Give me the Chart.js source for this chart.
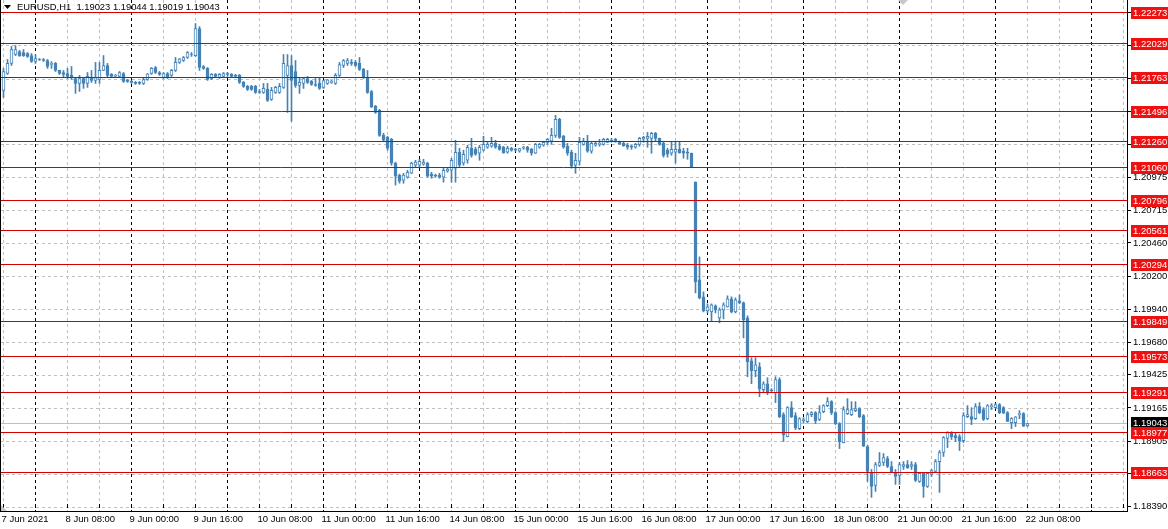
<!DOCTYPE html>
<html><head><meta charset="utf-8">
<script src="https://cdn.jsdelivr.net/npm/chart.js@4.4.0/dist/chart.umd.min.js"></script>
<style>html,body{margin:0;padding:0;background:#fff;overflow:hidden}#wrap{position:relative;width:1168px;height:529px}</style>
</head><body><div id="wrap"><canvas id="c" width="1168" height="529"></canvas></div>
<script>
const chartTitle = 'EURUSD,H1  1.19023 1.19044 1.19019 1.19043';

const openP = [
1.21657,1.21790,1.21869,1.21939,1.21963,1.21955,1.21947,1.21931,1.21884,1.21900,
1.21900,1.21892,1.21861,1.21869,1.21814,1.21798,1.21790,1.21775,1.21751,1.21712,
1.21751,1.21712,1.21759,1.21736,1.21743,1.21814,1.21853,1.21783,1.21767,1.21767,
1.21790,1.21736,1.21728,1.21720,1.21720,1.21712,1.21743,1.21790,1.21837,1.21798,
1.21759,1.21790,1.21775,1.21814,1.21877,1.21892,1.21916,1.21939,1.21931,1.22143,
1.21845,1.21830,1.21751,1.21783,1.21759,1.21767,1.21790,1.21783,1.21775,1.21775,
1.21720,1.21689,1.21689,1.21689,1.21649,1.21642,1.21665,1.21587,1.21642,1.21642,
1.21681,1.21775,1.21853,1.21806,1.21697,1.21712,1.21751,1.21728,1.21704,1.21712,
1.21681,1.21712,1.21720,1.21712,1.21775,1.21853,1.21869,1.21877,1.21877,1.21869,
1.21822,1.21759,1.21649,1.21532,1.21501,1.21305,1.21289,1.21274,1.21086,1.20992,
1.20953,1.20976,1.21007,1.21070,1.21070,1.21078,1.21086,1.21000,1.20992,1.20992,
1.20976,1.21023,1.21031,1.21047,1.21172,1.21086,1.21109,1.21203,1.21195,1.21164,
1.21188,1.21211,1.21219,1.21242,1.21219,1.21211,1.21172,1.21203,1.21195,1.21180,
1.21203,1.21211,1.21195,1.21164,1.21211,1.21227,1.21250,1.21258,1.21305,1.21430,
1.21297,1.21219,1.21172,1.21070,1.21101,1.21234,1.21258,1.21180,1.21227,1.21234,
1.21234,1.21250,1.21266,1.21274,1.21258,1.21242,1.21227,1.21219,1.21211,1.21234,
1.21274,1.21281,1.21281,1.21321,1.21281,1.21242,1.21188,1.21164,1.21172,1.21195,
1.21180,1.21172,1.21164,1.20937,1.20170,1.20037,1.19927,1.19919,1.19966,1.19872,
1.19935,1.19958,1.20021,1.19919,1.20005,1.19990,1.19872,1.19535,1.19457,1.19488,
1.19308,1.19355,1.19308,1.19285,1.19387,1.19113,1.18940,1.19167,1.19105,1.19003,
1.19066,1.19058,1.19113,1.19128,1.19074,1.19136,1.19183,1.19214,1.19128,1.19042,
1.18893,1.19120,1.19113,1.19144,1.19160,1.19105,1.18862,1.18658,1.18557,1.18713,
1.18737,1.18768,1.18705,1.18658,1.18635,1.18705,1.18721,1.18705,1.18721,1.18588,
1.18651,1.18549,1.18643,1.18666,1.18744,1.18815,1.18925,1.18972,1.18948,1.18940,
1.18909,1.19097,1.19097,1.19081,1.19175,1.19152,1.19081,1.19175,1.19167,1.19191,
1.19167,1.19128,1.19050,1.19050,1.19113,1.19120,1.19023];

const highP = [
1.21830,1.21900,1.22002,1.22010,1.21971,1.21978,1.21955,1.21947,1.21939,1.21908,
1.21908,1.21900,1.21884,1.21877,1.21816,1.21814,1.21830,1.21845,1.21759,1.21775,
1.21759,1.21798,1.21814,1.21877,1.21877,1.21931,1.21869,1.21790,1.21783,1.21806,
1.21798,1.21743,1.21736,1.21728,1.21728,1.21759,1.21790,1.21837,1.21845,1.21806,
1.21798,1.21798,1.21822,1.21916,1.21908,1.21924,1.21963,1.21955,1.22182,1.22158,
1.21853,1.21837,1.21790,1.21790,1.21790,1.21798,1.21798,1.21790,1.21783,1.21783,
1.21728,1.21697,1.21697,1.21697,1.21665,1.21712,1.21712,1.21681,1.21689,1.21712,
1.21939,1.21939,1.21931,1.21892,1.21759,1.21759,1.21767,1.21736,1.21751,1.21759,
1.21736,1.21743,1.21736,1.21790,1.21877,1.21900,1.21908,1.21900,1.21892,1.21916,
1.21830,1.21814,1.21657,1.21540,1.21509,1.21321,1.21297,1.21281,1.21094,1.21000,
1.21007,1.21031,1.21094,1.21109,1.21117,1.21117,1.21094,1.21015,1.21000,1.21007,
1.21047,1.21047,1.21125,1.21266,1.21203,1.21188,1.21227,1.21281,1.21211,1.21227,
1.21297,1.21250,1.21289,1.21266,1.21234,1.21219,1.21219,1.21211,1.21203,1.21203,
1.21219,1.21219,1.21203,1.21242,1.21242,1.21258,1.21281,1.21360,1.21462,1.21438,
1.21305,1.21242,1.21188,1.21164,1.21289,1.21281,1.21305,1.21250,1.21250,1.21274,
1.21281,1.21281,1.21281,1.21281,1.21260,1.21250,1.21242,1.21227,1.21242,1.21289,
1.21297,1.21328,1.21328,1.21328,1.21283,1.21250,1.21203,1.21250,1.21250,1.21250,
1.21203,1.21203,1.21166,1.20939,1.20350,1.20076,1.19982,1.19982,1.19974,1.19950,
1.19990,1.20045,1.20037,1.20029,1.20052,1.19997,1.19888,1.19559,1.19559,1.19520,
1.19371,1.19402,1.19316,1.19410,1.19402,1.19128,1.19175,1.19214,1.19128,1.19089,
1.19089,1.19128,1.19136,1.19136,1.19183,1.19191,1.19246,1.19222,1.19136,1.19050,
1.19175,1.19238,1.19214,1.19214,1.19167,1.19113,1.18870,1.18682,1.18737,1.18815,
1.18807,1.18784,1.18744,1.18682,1.18737,1.18744,1.18752,1.18744,1.18737,1.18658,
1.18658,1.18658,1.18682,1.18760,1.18831,1.18940,1.18979,1.18979,1.18972,1.18956,
1.19128,1.19183,1.19167,1.19199,1.19207,1.19167,1.19191,1.19199,1.19199,1.19199,
1.19175,1.19136,1.19089,1.19097,1.19144,1.19128,1.19044];

const lowP = [
1.21602,1.21783,1.21853,1.21931,1.21924,1.21924,1.21916,1.21877,1.21869,1.21892,
1.21884,1.21830,1.21830,1.21806,1.21783,1.21759,1.21751,1.21743,1.21634,1.21649,
1.21673,1.21681,1.21720,1.21712,1.21712,1.21812,1.21759,1.21759,1.21759,1.21759,
1.21720,1.21720,1.21712,1.21704,1.21704,1.21704,1.21736,1.21783,1.21790,1.21775,
1.21751,1.21751,1.21767,1.21806,1.21869,1.21884,1.21908,1.21924,1.21924,1.21814,
1.21822,1.21736,1.21743,1.21759,1.21751,1.21759,1.21767,1.21759,1.21759,1.21712,
1.21681,1.21657,1.21657,1.21634,1.21634,1.21634,1.21571,1.21579,1.21634,1.21634,
1.21673,1.21485,1.21415,1.21681,1.21634,1.21673,1.21712,1.21697,1.21689,1.21665,
1.21673,1.21704,1.21712,1.21704,1.21767,1.21837,1.21853,1.21853,1.21845,1.21814,
1.21751,1.21634,1.21524,1.21477,1.21297,1.21258,1.21188,1.21070,1.20914,1.20929,
1.20929,1.20968,1.21005,1.21054,1.21054,1.21070,1.20976,1.20968,1.20976,1.20968,
1.20937,1.21015,1.20937,1.20937,1.21054,1.21070,1.21086,1.21133,1.21148,1.21109,
1.21180,1.21203,1.21211,1.21203,1.21188,1.21164,1.21164,1.21180,1.21180,1.21172,
1.21195,1.21172,1.21148,1.21162,1.21203,1.21219,1.21234,1.21234,1.21289,1.21281,
1.21203,1.21148,1.21047,1.21007,1.21070,1.21227,1.21172,1.21164,1.21219,1.21219,
1.21227,1.21248,1.21250,1.21250,1.21234,1.21219,1.21195,1.21195,1.21203,1.21219,
1.21250,1.21211,1.21164,1.21258,1.21227,1.21133,1.21133,1.21148,1.21086,1.21164,
1.21125,1.21117,1.21054,1.20068,1.20021,1.19919,1.19911,1.19849,1.19911,1.19833,
1.19864,1.19956,1.19911,1.19911,1.19982,1.19715,1.19410,1.19355,1.19410,1.19253,
1.19285,1.19269,1.19285,1.19207,1.19089,1.18901,1.18938,1.19089,1.18995,1.18995,
1.19050,1.19050,1.19097,1.19042,1.19066,1.19128,1.19175,1.19113,1.19034,1.18846,
1.18891,1.19113,1.19105,1.19136,1.19089,1.18862,1.18588,1.18463,1.18510,1.18705,
1.18713,1.18697,1.18658,1.18565,1.18565,1.18682,1.18690,1.18682,1.18588,1.18580,
1.18463,1.18541,1.18627,1.18658,1.18502,1.18784,1.18854,1.18917,1.18901,1.18831,
1.18893,1.19089,1.19034,1.19074,1.19120,1.19066,1.19074,1.19152,1.19160,1.19120,
1.19120,1.19058,1.19003,1.19019,1.19081,1.19019,1.19019];

const closeP = [
1.21806,1.21869,1.21978,1.21978,1.21931,1.21931,1.21924,1.21884,1.21908,1.21898,
1.21892,1.21845,1.21869,1.21814,1.21790,1.21783,1.21767,1.21759,1.21712,1.21751,
1.21712,1.21767,1.21736,1.21759,1.21814,1.21853,1.21775,1.21767,1.21775,1.21798,
1.21728,1.21728,1.21720,1.21712,1.21712,1.21743,1.21788,1.21830,1.21798,1.21783,
1.21790,1.21759,1.21814,1.21877,1.21906,1.21916,1.21955,1.21937,1.22143,1.21837,
1.21830,1.21743,1.21783,1.21767,1.21783,1.21790,1.21783,1.21767,1.21767,1.21720,
1.21689,1.21665,1.21665,1.21642,1.21642,1.21673,1.21579,1.21657,1.21681,1.21689,
1.21869,1.21853,1.21736,1.21697,1.21720,1.21751,1.21720,1.21704,1.21697,1.21673,
1.21734,1.21741,1.21728,1.21775,1.21861,1.21892,1.21892,1.21869,1.21853,1.21822,
1.21759,1.21642,1.21526,1.21485,1.21305,1.21266,1.21203,1.21086,1.20984,1.20945,
1.20992,1.21015,1.21086,1.21094,1.21101,1.21094,1.20984,1.20984,1.20984,1.20976,
1.21031,1.21039,1.21109,1.21172,1.21070,1.21156,1.21211,1.21148,1.21156,1.21211,
1.21234,1.21234,1.21242,1.21211,1.21195,1.21166,1.21203,1.21188,1.21188,1.21201,
1.21211,1.21188,1.21164,1.21234,1.21234,1.21250,1.21274,1.21305,1.21430,1.21289,
1.21211,1.21164,1.21062,1.21109,1.21250,1.21258,1.21180,1.21242,1.21242,1.21242,
1.21274,1.21274,1.21258,1.21258,1.21236,1.21221,1.21211,1.21211,1.21234,1.21281,
1.21289,1.21297,1.21321,1.21281,1.21234,1.21148,1.21156,1.21195,1.21195,1.21166,
1.21164,1.21164,1.21056,1.20154,1.20029,1.19927,1.19958,1.19974,1.19935,1.19935,
1.19974,1.20021,1.19919,1.20013,1.19990,1.19856,1.19528,1.19457,1.19504,1.19316,
1.19355,1.19293,1.19300,1.19387,1.19097,1.18956,1.19167,1.19097,1.19011,1.19081,
1.19074,1.19113,1.19128,1.19066,1.19128,1.19183,1.19214,1.19128,1.19042,1.18901,
1.19152,1.19152,1.19152,1.19160,1.19097,1.18864,1.18666,1.18549,1.18721,1.18737,
1.18776,1.18705,1.18660,1.18627,1.18721,1.18721,1.18697,1.18721,1.18596,1.18651,
1.18549,1.18651,1.18674,1.18744,1.18815,1.18932,1.18972,1.18940,1.18932,1.18909,
1.19105,1.19113,1.19074,1.19175,1.19128,1.19074,1.19183,1.19183,1.19191,1.19128,
1.19128,1.19060,1.19081,1.19095,1.19120,1.19021,1.19043];

// time axis: one label every 16 hourly bars, starting at bar 0
const xTickLabels = ['7 Jun 2021','8 Jun 08:00','9 Jun 00:00','9 Jun 16:00','10 Jun 08:00',
  '11 Jun 00:00','11 Jun 16:00','14 Jun 08:00','15 Jun 00:00','15 Jun 16:00','16 Jun 08:00',
  '17 Jun 00:00','17 Jun 16:00','18 Jun 08:00','21 Jun 00:00','21 Jun 16:00','22 Jun 08:00'];
const daySeparatorBars = [8,32,56,80,104,128,152,176,200,224,248,272];

const yTickValues = [1.18390,1.18648,1.18905,1.19165,1.19425,1.19680,1.19940,1.20200,
  1.20460,1.20715,1.20975,1.21235,1.21495,1.21750,1.22010,1.22270];
const levelValues = [1.22273,1.22029,1.21763,1.21496,1.21260,1.21060,1.20796,1.20561,
  1.20294,1.19849,1.19573,1.19291,1.18977,1.18663];
const lastPrice = 1.19043;

const BLUE = '#4682b4';
const FONT = '"Liberation Sans", Arial, sans-serif';
const barIdx = openP.map((_, i) => i);

function hline(ctx, x1, x2, y) { ctx.beginPath(); ctx.moveTo(x1, y); ctx.lineTo(x2, y); ctx.stroke(); }
function vline(ctx, x, y1, y2) { ctx.beginPath(); ctx.moveTo(x, y1); ctx.lineTo(x, y2); ctx.stroke(); }

const mt4 = {
  id: 'mt4',
  beforeDatasetsDraw(chart) {
    const {ctx, chartArea: a, scales: {x, y}} = chart;
    ctx.save();
    ctx.lineWidth = 1;
    ctx.setLineDash([3, 3]);
    ctx.strokeStyle = '#c0c0c0';
    yTickValues.forEach(v => {
      const py = Math.round(y.getPixelForValue(v)) + 0.5;
      hline(ctx, a.left, a.right, py);
    });
    for (let b = 0; b <= 280; b += 8) {
      const px = Math.floor(x.getPixelForValue(b)) + 0.5;
      ctx.strokeStyle = daySeparatorBars.includes(b) ? '#000000' : '#c0c0c0';
      vline(ctx, px, a.top, a.bottom);
    }
    ctx.setLineDash([]);
    ctx.strokeStyle = '#c0c0c0';
    hline(ctx, a.left, a.right, Math.round(y.getPixelForValue(lastPrice)) + 0.5);
    ctx.restore();
  },
  afterDatasetsDraw(chart) {
    const {ctx, chartArea: a, scales: {y}} = chart;
    ctx.save();
    ctx.lineWidth = 1;
    ctx.strokeStyle = '#d40000';
    levelValues.forEach(v => hline(ctx, a.left, a.right, Math.round(y.getPixelForValue(v)) + 0.5));
    ctx.restore();
  },
  afterDraw(chart) {
    const {ctx, chartArea: a, scales: {x, y}} = chart;
    ctx.save();
    // frame
    ctx.strokeStyle = '#000'; ctx.lineWidth = 1;
    vline(ctx, a.left + 0.5, a.top, a.bottom + 1);
    // time ticks inside bottom
    for (let b = 0; b <= 280; b += 8) {
      const px = Math.floor(x.getPixelForValue(b)) + 0.5;
      vline(ctx, px, a.bottom - 7, a.bottom - 3);
    }
    // chart shift markers
    ctx.fillStyle = '#c8c8c8';
    ctx.beginPath(); ctx.moveTo(1, a.bottom - 6); ctx.lineTo(1, a.bottom); ctx.lineTo(7, a.bottom); ctx.closePath(); ctx.fill();
    ctx.beginPath(); ctx.moveTo(898, 0); ctx.lineTo(908, 0); ctx.lineTo(903, 5); ctx.closePath(); ctx.fill();

    ctx.font = '9.5px ' + FONT;
    ctx.textBaseline = 'middle';
    ctx.textAlign = 'left';
    // current price box
    const lp = Math.round(y.getPixelForValue(lastPrice));
    ctx.fillStyle = '#000';
    ctx.fillRect(a.right + 4, lp - 6, 1168 - a.right - 4, 12);
    ctx.fillStyle = '#fff';
    ctx.fillText(lastPrice.toFixed(5), a.right + 6, lp + 0.5);
    // level boxes
    levelValues.forEach(v => {
      const py = Math.round(y.getPixelForValue(v));
      ctx.fillStyle = '#ee1111';
      ctx.fillRect(a.right + 4, py - 5, 1168 - a.right - 4, 12);
      ctx.fillStyle = '#fff';
      ctx.fillText(v.toFixed(5), a.right + 6, py + 1.5);
    });
    // title
    ctx.fillStyle = '#000';
    ctx.beginPath(); ctx.moveTo(4, 5); ctx.lineTo(11, 5); ctx.lineTo(7.5, 9); ctx.closePath(); ctx.fill();
    ctx.font = '9.4px ' + FONT;
    ctx.fillText(chartTitle, 17, 7);
    ctx.restore();
  }
};

new Chart(document.getElementById('c'), {
  type: 'bar',
  data: {
    datasets: [
      {
        label: 'wick',
        data: barIdx.map(i => ({x: i, y: [lowP[i], highP[i]]})),
        backgroundColor: BLUE,
        borderWidth: 0,
        barThickness: 1,
        grouped: false,
        order: 2
      },
      {
        label: 'body',
        data: barIdx.map(i => ({x: i, y: [openP[i], closeP[i]]})),
        backgroundColor: ctx => closeP[ctx.dataIndex] >= openP[ctx.dataIndex] ? '#ffffff' : BLUE,
        borderColor: BLUE,
        borderWidth: 1,
        borderSkipped: false,
        barThickness: 3,
        grouped: false,
        order: 1
      }
    ]
  },
  options: {
    responsive: false,
    animation: false,
    devicePixelRatio: 1,
    events: [],
    layout: {padding: 0},
    plugins: {legend: {display: false}, tooltip: {enabled: false}, title: {display: false}},
    scales: {
      x: {
        type: 'linear',
        offset: false,
        min: -0.875,
        max: 280.875,
        afterBuildTicks: s => { const t = []; for (let b = 0; b <= 280; b += 8) t.push({value: b}); s.ticks = t; },
        afterFit: s => { s.height = 18; s.paddingLeft = 0; s.paddingRight = 0; },
        grid: {display: false, drawTicks: false},
        border: {display: true, color: '#000', width: 1},
        ticks: {
          autoSkip: false, maxRotation: 0, minRotation: 0, align: 'start', padding: 3, labelOffset: -2,
          color: '#000', font: {family: FONT, size: 9.5},
          callback: v => (v % 16 === 0 && xTickLabels[v / 16]) ? xTickLabels[v / 16] : ''
        }
      },
      y: {
        type: 'linear',
        position: 'right',
        min: 1.18356,
        max: 1.22367,
        afterBuildTicks: s => { s.ticks = yTickValues.map(v => ({value: v})); },
        afterFit: s => { s.width = 41; s.paddingTop = 0; s.paddingBottom = 0; },
        grid: {display: true, drawOnChartArea: false, drawTicks: true, tickLength: 4, tickColor: '#000'},
        border: {display: true, color: '#000', width: 1},
        ticks: {
          autoSkip: false, padding: 2, color: '#000', font: {family: FONT, size: 9.5},
          callback: v => Number(v).toFixed(5)
        }
      }
    }
  },
  plugins: [mt4]
});
</script>
</body></html>
